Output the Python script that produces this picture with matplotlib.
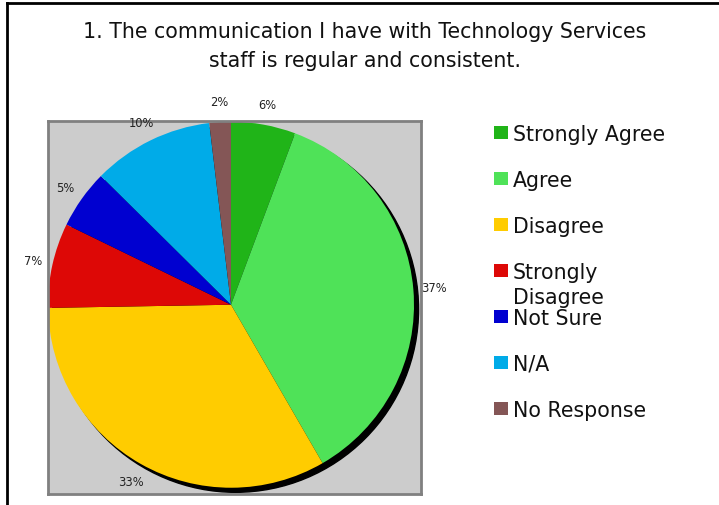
import matplotlib
matplotlib.use("Agg")
import matplotlib.pyplot as plt
from matplotlib.patches import Circle, Rectangle
from matplotlib.lines import Line2D

categories = ["Strongly Agree", "Agree", "Disagree", "Strongly\nDisagree",
              "Not Sure", "N/A", "No Response"]
values = [5.7, 36.0, 33.1, 7.5, 5.2, 10.7, 1.9]
pct_labels = ["6%", "37%", "33%", "7%", "5%", "10%", "2%"]
colors = ["#20b418", "#4fe258", "#ffcc00", "#dd0806", "#0000d0", "#00abe8", "#845656"]
title_lines = ["1. The communication I have with Technology Services",
               "staff is regular and consistent."]

W, H = 719, 506
fig = plt.figure(figsize=(W / 100, H / 100), dpi=100)
fig.patch.set_facecolor("white")

# outer chart frame (left and top edges visible)
fig.add_artist(Line2D([7 / W, 7 / W], [0, 1 - 4 / H], transform=fig.transFigure,
                      color="black", lw=2))
fig.add_artist(Line2D([7 / W, 1], [1 - 4 / H, 1 - 4 / H], transform=fig.transFigure,
                      color="black", lw=2))

for j, line in enumerate(title_lines):
    fig.text(365 / W, 1 - (38 + 29 * j) / H, line, ha="center", va="baseline",
             fontsize=14.8, color="#111111")

ax = fig.add_axes([48 / W, 1 - 495 / H, 373 / W, 373 / H])

# shadow
ax.add_patch(Circle((0.025, -0.025), 1.0, color="black", zorder=1))

wedges, texts = ax.pie(values, labels=pct_labels, colors=colors, startangle=90,
                       counterclock=False, labeldistance=1.11, frame=True,
                       wedgeprops=dict(linewidth=0, zorder=2),
                       textprops=dict(fontsize=8.3, color="#222222"))
for t in texts:
    t.set_ha("center")
    t.set_va("center")
    t.set_clip_on(False)
    t.set_zorder(5)
ax.set_facecolor("#cccccc")
for s in ax.spines.values():
    s.set_color("#808080")
    s.set_linewidth(2)
    s.set_visible(True)
ax.set_xticks([])
ax.set_yticks([])
ax.set_xlim(-1.0, -1.0 + 373 / 183)
ax.set_ylim(1.004 - 373 / 183, 1.004)
ax.set_aspect("auto")

# legend
for i, (cat, col) in enumerate(zip(categories, colors)):
    top = 127 + 46 * i
    fig.add_artist(Rectangle((494 / W, 1 - (top + 13) / H), 13.5 / W, 13 / H,
                             transform=fig.transFigure, facecolor=col,
                             edgecolor="none"))
    for k, part in enumerate(cat.split("\n")):
        fig.text(513 / W, 1 - (top + 14 + 25 * k) / H, part, ha="left",
                 va="baseline", fontsize=14.8, color="#111111")

fig.savefig("out.png", dpi=100)
